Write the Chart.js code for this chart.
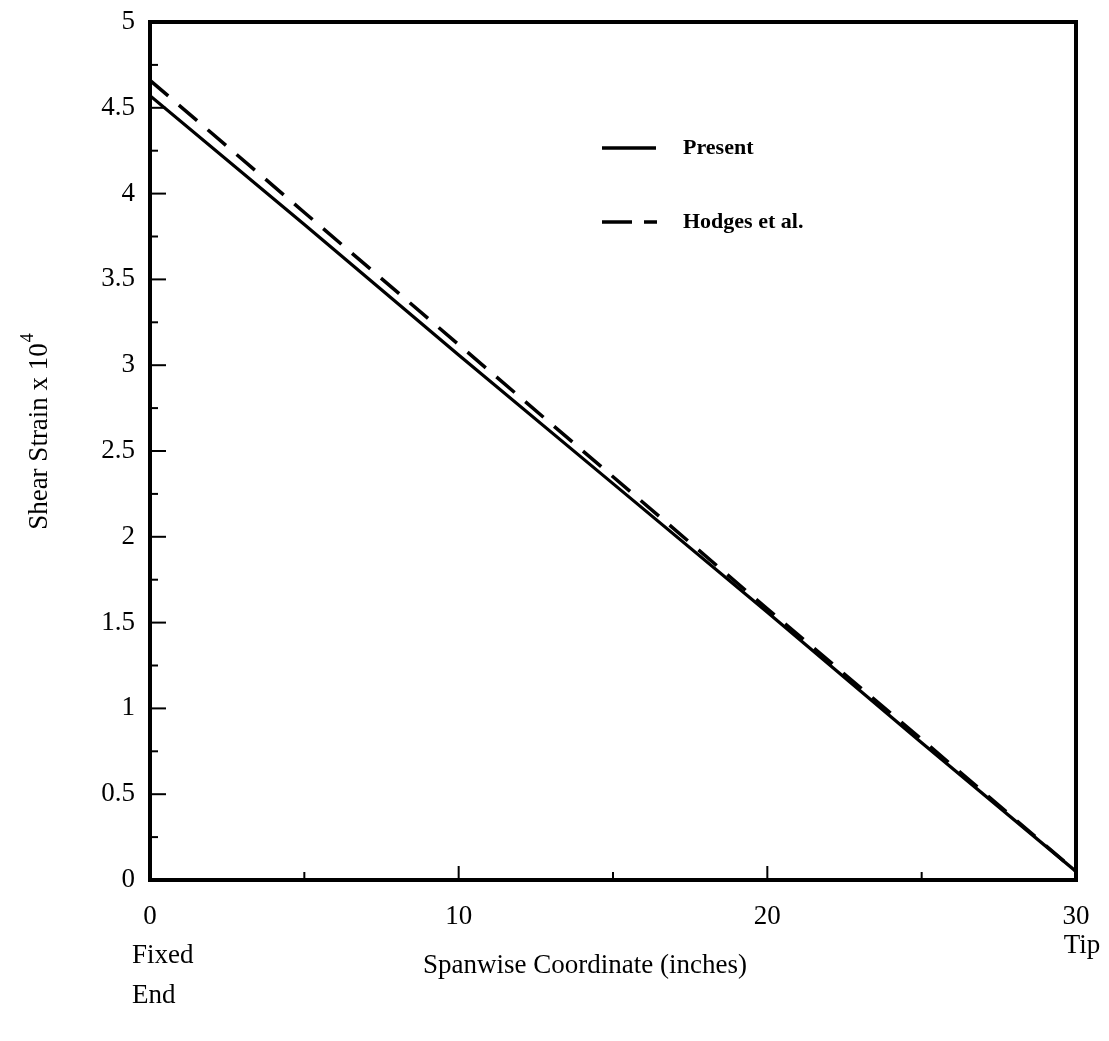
<!DOCTYPE html>
<html lang="en">
<head>
  <meta charset="UTF-8">
  <title>Shear Strain vs Spanwise Coordinate</title>
  <script src="https://cdn.jsdelivr.net/npm/chart.js"></script>
  <style>
    body {
      margin: 0;
      background: #ffffff;
    }
    .chart-box {
      width: 1109px;
      height: 1041px;
    }
  </style>
</head>
<body>
  <div class="chart-box">
    <canvas id="strainChart"></canvas>
  </div>

  <script>
    // spanwise position (inches)
    const spanX = [0, 5, 10, 15, 20, 25, 30];
    // shear strain x 10^4
    const presentStrain = [4.57, 3.82, 3.06, 2.31, 1.56, 0.80, 0.05];
    const hodgesStrain  = [4.66, 3.89, 3.12, 2.35, 1.58, 0.82, 0.05];

    const yTickValues = [0, 0.5, 1, 1.5, 2, 2.5, 3, 3.5, 4, 4.5, 5];
    const xTickValues = [0, 10, 20, 30];

    const serif = "'Liberation Serif', 'DejaVu Serif', serif";

    const toPoints = (xs, ys) => xs.map((x, i) => ({ x: x, y: ys[i] }));

    // frame, inward ticks, titles and legend
    const decorations = {
      id: 'decorations',
      afterDraw(chart) {
        const ctx = chart.ctx;
        const area = chart.chartArea;
        const xs = chart.scales.x;
        const ys = chart.scales.y;

        ctx.save();
        ctx.strokeStyle = '#000';
        ctx.lineWidth = 4;
        ctx.strokeRect(area.left, area.top, area.right - area.left, area.bottom - area.top);

        // y ticks, pointing in
        ctx.lineWidth = 2;
        for (let v = 0; v <= 5.001; v += 0.25) {
          const py = ys.getPixelForValue(v);
          const len = Math.abs(v * 2 - Math.round(v * 2)) < 0.01 ? 16 : 8;
          ctx.beginPath();
          ctx.moveTo(area.left, py);
          ctx.lineTo(area.left + len, py);
          ctx.stroke();
        }
        // x ticks
        for (let v = 5; v < 30; v += 5) {
          const px = xs.getPixelForValue(v);
          const len = v % 10 === 0 ? 14 : 8;
          ctx.beginPath();
          ctx.moveTo(px, area.bottom);
          ctx.lineTo(px, area.bottom - len);
          ctx.stroke();
        }

        ctx.fillStyle = '#000';
        ctx.textBaseline = 'middle';

        // x axis extra labels
        ctx.font = '27px ' + serif;
        ctx.textAlign = 'left';
        ctx.fillText('Fixed', xs.getPixelForValue(0) - 18, 956);
        ctx.fillText('End', xs.getPixelForValue(0) - 18, 996);
        ctx.textAlign = 'center';
        ctx.fillText('Tip', xs.getPixelForValue(30) + 6, 946);

        ctx.font = '27px ' + serif;
        ctx.fillText('Spanwise Coordinate (inches)', 585, 966);

        // y axis title with superscript
        ctx.save();
        ctx.translate(40, 432);
        ctx.rotate(-Math.PI / 2);
        ctx.font = '27px ' + serif;
        const main = 'Shear Strain x 10';
        const w = ctx.measureText(main).width;
        ctx.font = '18px ' + serif;
        const sw = ctx.measureText('4').width;
        const start = -(w + sw) / 2;
        ctx.font = '27px ' + serif;
        ctx.textAlign = 'left';
        ctx.fillText(main, start, 0);
        ctx.font = '18px ' + serif;
        ctx.fillText('4', start + w + 1, -12);
        ctx.restore();

        // legend
        ctx.lineWidth = 3.5;
        ctx.beginPath();
        ctx.moveTo(602, 148);
        ctx.lineTo(656, 148);
        ctx.stroke();
        ctx.beginPath();
        ctx.moveTo(602, 222);
        ctx.lineTo(632, 222);
        ctx.moveTo(644, 222);
        ctx.lineTo(657, 222);
        ctx.stroke();

        ctx.font = 'bold 22px ' + serif;
        ctx.textAlign = 'left';
        ctx.fillText('Present', 683, 148);
        ctx.fillText('Hodges et al.', 683, 222);
        ctx.restore();
      }
    };

    new Chart(document.getElementById('strainChart'), {
      type: 'line',
      data: {
        datasets: [
          {
            label: 'Present',
            data: toPoints(spanX, presentStrain),
            borderColor: '#000',
            borderWidth: 3.2,
            pointRadius: 0,
            tension: 0
          },
          {
            label: 'Hodges et al.',
            data: toPoints(spanX, hodgesStrain),
            borderColor: '#000',
            borderWidth: 3.5,
            borderDash: [24, 14],
            pointRadius: 0,
            tension: 0
          }
        ]
      },
      options: {
        responsive: true,
        maintainAspectRatio: false,
        animation: false,
        layout: {
          padding: { top: 22, right: 33, left: 0, bottom: 0 }
        },
        plugins: {
          legend: { display: false },
          tooltip: { enabled: false }
        },
        scales: {
          x: {
            type: 'linear',
            min: 0,
            max: 30,
            afterBuildTicks(scale) {
              scale.ticks = xTickValues.map(v => ({ value: v }));
            },
            afterFit(scale) {
              scale.height = 161;
              scale.paddingLeft = 0;
              scale.paddingRight = 0;
            },
            grid: { display: false, drawTicks: false },
            border: { display: false },
            ticks: {
              padding: 21,
              color: '#000',
              font: { family: serif, size: 27 },
              callback: v => String(v)
            }
          },
          y: {
            min: 0,
            max: 5,
            afterBuildTicks(scale) {
              scale.ticks = yTickValues.map(v => ({ value: v }));
            },
            afterFit(scale) {
              scale.width = 150;
              scale.paddingTop = 0;
              scale.paddingBottom = 0;
            },
            grid: { display: false, drawTicks: false },
            border: { display: false },
            ticks: {
              padding: 15,
              color: '#000',
              font: { family: serif, size: 27 },
              callback: v => String(v)
            }
          }
        }
      },
      plugins: [decorations]
    });
  </script>
</body>
</html>
